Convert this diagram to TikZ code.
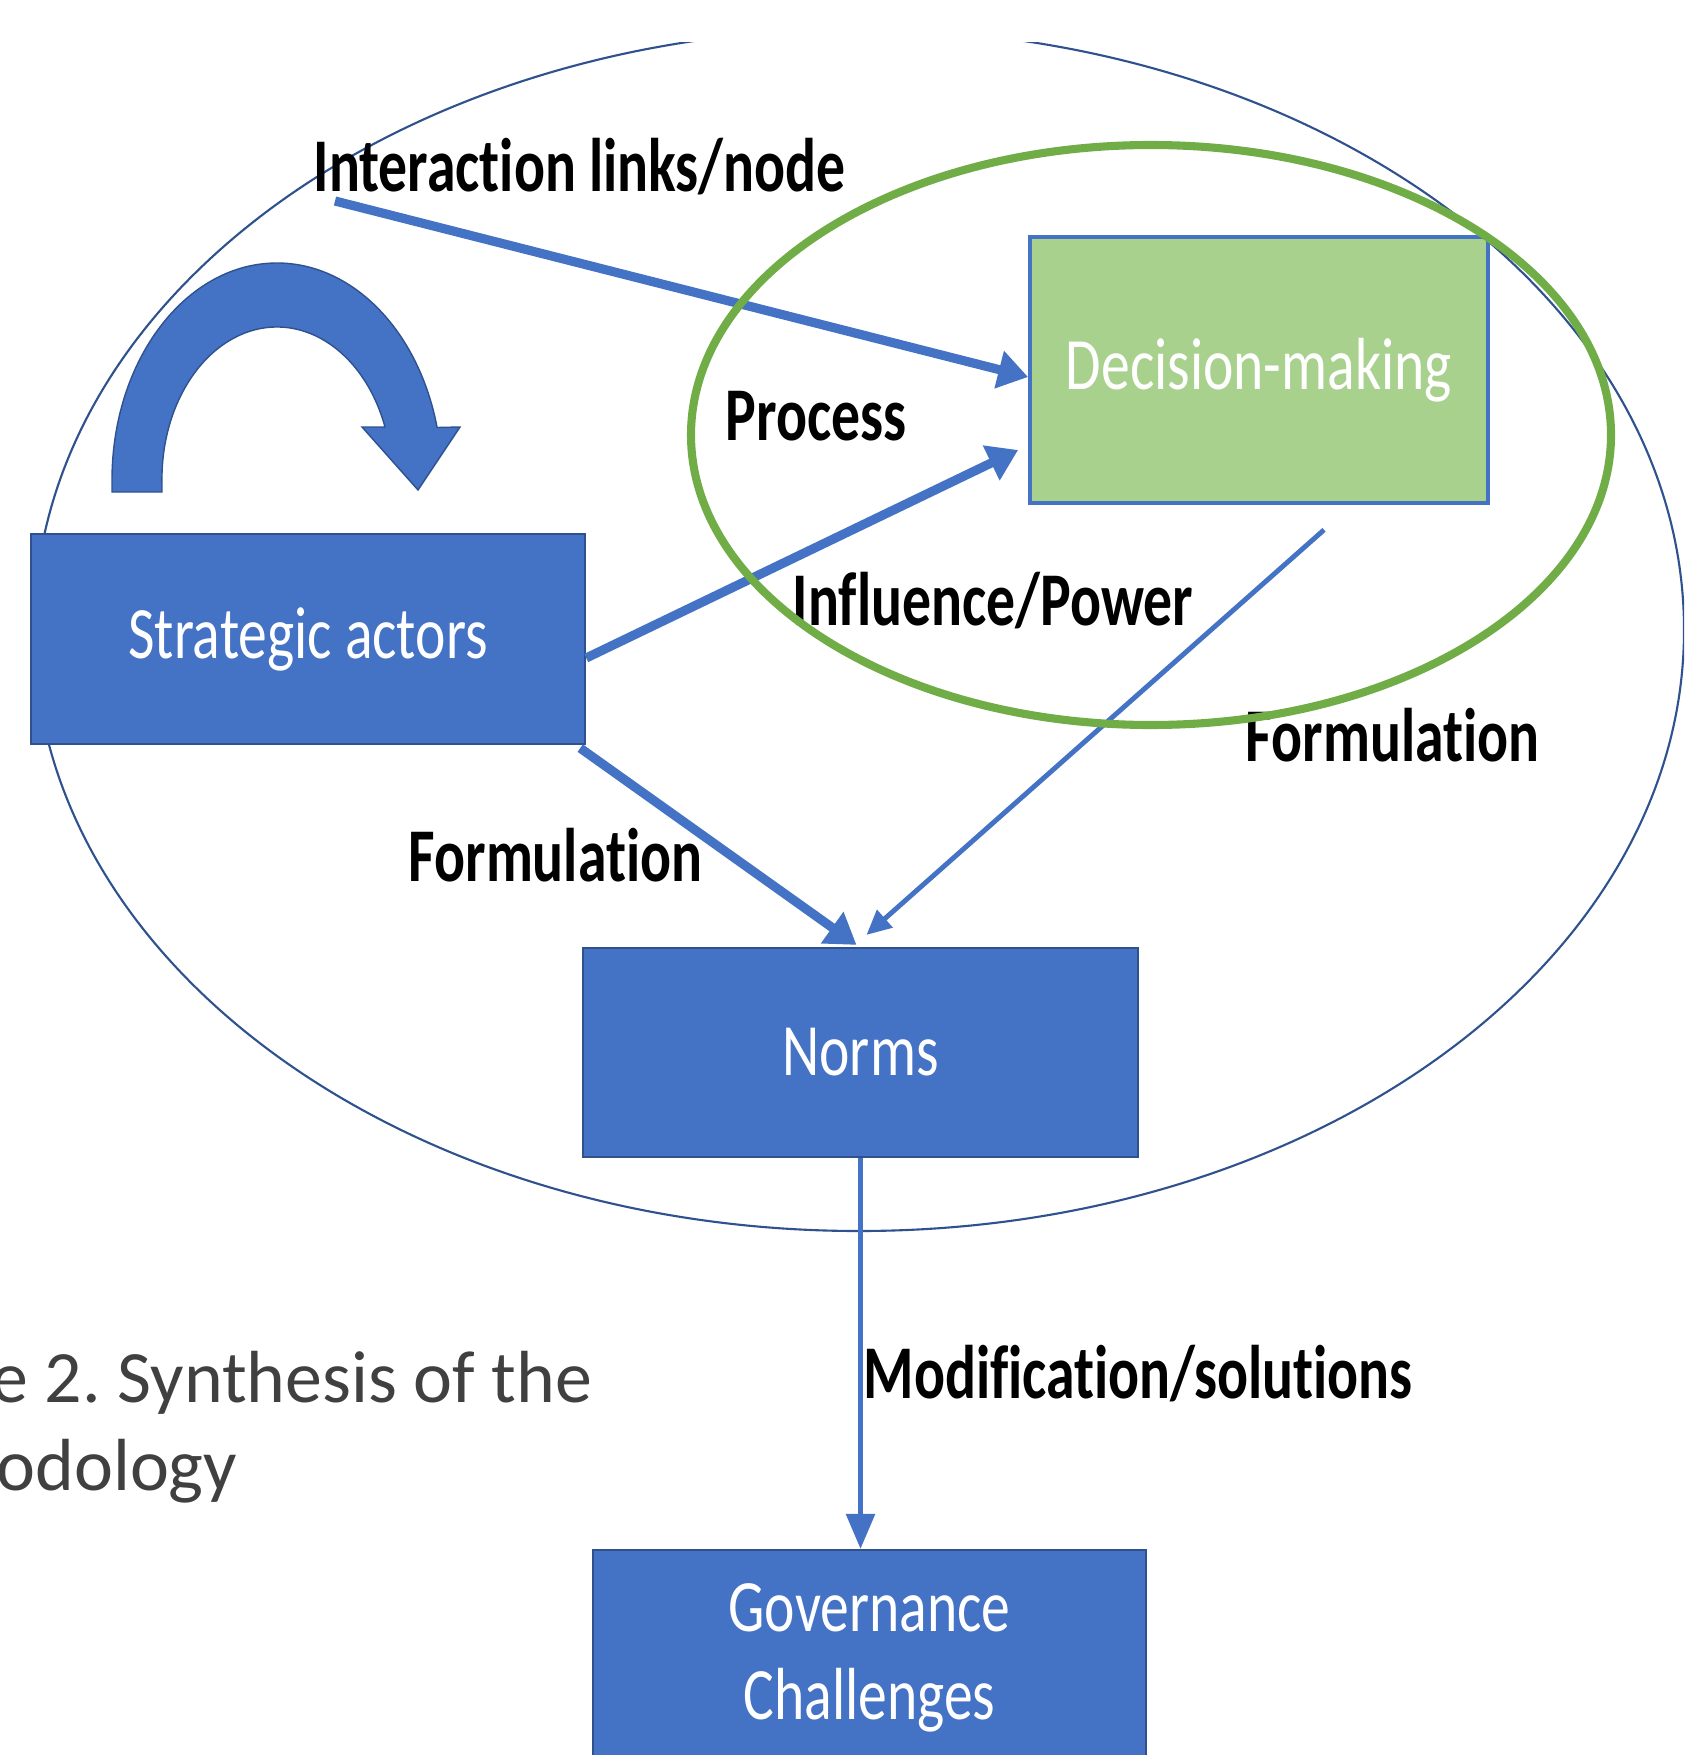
\documentclass[tikz,border=0pt]{standalone}
\usepackage{fontspec}
\setmainfont{Carlito}
\newfontfamily\narrowfont[FakeStretch=0.78,Ligatures=NoCommon]{Carlito}
\newfontfamily\tagfont[FakeStretch=0.76,Ligatures=NoCommon]{Carlito}
\usetikzlibrary{arrows.meta,calc}
\definecolor{boxblue}{HTML}{4472C4}
\definecolor{boxedge}{HTML}{2F528F}
\definecolor{leafgreen}{HTML}{A9D18E}
\definecolor{ringgreen}{HTML}{70AD47}
\definecolor{capgray}{HTML}{404040}

\begin{document}
\begin{tikzpicture}[x=0.01cm,y=-0.01cm,
 box/.style={draw=boxedge,line width=.6pt,fill=boxblue,text=white,inner sep=0,align=center,font=\narrowfont\fontsize{21pt}{25pt}\selectfont},
 tag/.style={inner sep=0,anchor=base west,font=\tagfont\bfseries\fontsize{21.6pt}{26pt}\selectfont},
 link/.style={boxblue,line width=2.6pt,-{Triangle[length=8.5pt,width=10.5pt]}},
 thinlink/.style={boxblue,line width=1.6pt,-{Triangle[length=10pt,width=8pt]}}]
 \clip(0,0)rectangle(1684,1755);
 \fill[white](0,0)rectangle(1684,1755);
 % outer boundary, cut off along the top
 \begin{scope}
  \clip(0,43)rectangle(1684,1755);
  \draw[boxedge,line width=.6pt](859,630)ellipse[x radius=825,y radius=601];
 \end{scope}
 % looping arrow over the actors
 \filldraw[fill=boxblue,draw=boxedge,line width=.4pt](112,492)--(112,480)
  arc[start angle=180,end angle=346,x radius=165,y radius=217]--(460,427)--(418,490)--(362,427)--(385,427)
  arc[start angle=340,end angle=180,x radius=115,y radius=152]--(162,492)--cycle;
 \node[box,minimum width=5.54cm,minimum height=2.1cm](actors)at(308,639){Strategic actors};
 \node[box,fill=leafgreen,draw=boxblue,line width=1pt,minimum width=4.58cm,minimum height=2.66cm](decision)at(1259,370){Decision-making};
 \node[box,minimum width=5.55cm,minimum height=2.09cm](norms)at(860.5,1052.5){Norms};
 \node[box,anchor=north,minimum width=5.53cm,minimum height=2.16cm](challenges)at(869.5,1549){Governance\\Challenges};
 \coordinate(ilink)at(335,201);
 \draw[link](ilink)--($(decision.west)+(0,7)$);
 \draw[link]($(actors.east)+(0,19)$)--($(decision.west)+(-10,80)$);
 \draw[link]($(actors.south east)+(-6,3)$)--($(norms.north)+(-4,-2)$);
 \draw[thinlink,line width=1.4pt,-{Triangle[length=7pt,width=6.5pt]}]($(decision.south)+(65,25)$)--($(norms.north)+(6,-12)$);
 \draw[thinlink](norms.south)--(norms.south|-challenges.north);
 \node[tag](interaction)at(313,192){Interaction links/node};
 \node[tag](process)at(725,440){Process};
 \node[tag](influence)at(792,625){Influence/Power};
 \node[tag](formright)at(1245,761){Formulation};
 \node[tag](formleft)at(408,881){Formulation};
 \node[tag](modify)at(863,1398){Modification/solutions};
 \draw[ringgreen,line width=2.3pt](1151,435)ellipse[x radius=460,y radius=290];
 \node[anchor=base east,inner sep=0,text=capgray,font=\fontsize{21pt}{25pt}\selectfont](caption)at(593,1402){e 2.\ Synthesis of the};
 \node[anchor=base east,inner sep=0,text=capgray,font=\fontsize{21pt}{25pt}\selectfont](caption2)at(238,1490){odology};
\end{tikzpicture}
\end{document}
